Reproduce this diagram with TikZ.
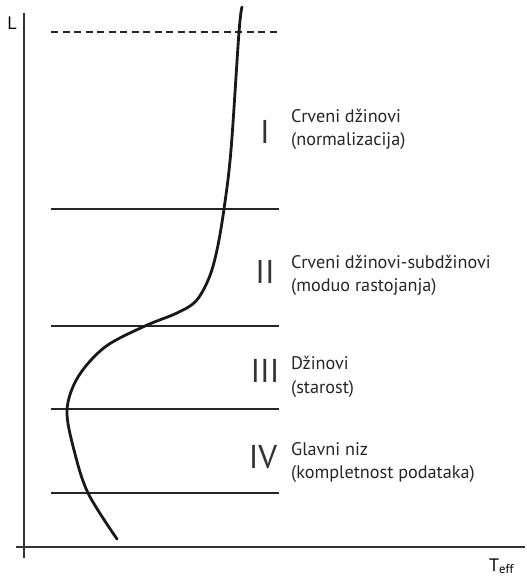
\documentclass[tikz,border=0pt]{standalone}
\usepackage{fontspec}
\setmainfont{PT Sans}
\begin{document}
\begin{tikzpicture}[x=1pt,y=-1pt,
  axis/.style={line width=1.4pt,draw=black!80},
  rule/.style={line width=1.2pt,draw=black!85},
  curve/.style={line width=2.8pt,draw=black!90,line cap=round},
  lbl/.style={inner sep=0pt,anchor=base west,font=\fontsize{18.2}{20}\selectfont,text=black!85},
  num/.style={inner sep=0pt,anchor=base,font=\fontsize{33}{36}\selectfont,text=black!80}]
\useasboundingbox (0,0) rectangle (527,581);
% axes
\coordinate (ytop) at (24,13);
\coordinate (ybot) at (24,558);
\coordinate (xl) at (16,547);
\coordinate (xr) at (525,547);
\draw[axis] (ytop) -- (ybot);
\draw[axis] (xl) -- (xr);
\node[inner sep=0pt,anchor=base,font=\fontsize{18}{20}\selectfont] (L) at (12,29) {L};
\node[inner sep=0pt,anchor=base west,font=\fontsize{18}{20}\selectfont] (T) at (489,571) {T\textsubscript{eff}};
% horizontal rules
\coordinate (d1) at (51,32);  \coordinate (d2) at (279,32);
\coordinate (h1a) at (51,209); \coordinate (h1b) at (279,209);
\coordinate (h2a) at (51,326); \coordinate (h2b) at (279,326);
\coordinate (h3a) at (51,409); \coordinate (h3b) at (279,409);
\coordinate (h4a) at (51,493); \coordinate (h4b) at (279,493);
\draw[rule,dash pattern=on 7pt off 4.5pt] (d1) -- (d2);
\draw[rule] (h1a) -- (h1b);
\draw[rule] (h2a) -- (h2b);
\draw[rule] (h3a) -- (h3b);
\draw[rule] (h4a) -- (h4b);
% curve
\draw[curve] plot[smooth,tension=0.55] coordinates {
 (242,7) (239,32) (231,150) (224,209) (217,250) (209,278) (196,301) (177,313)
 (145,326) (105,347) (78,377) (67,410) (74,450) (88,493) (117,539)};
% numerals
\node[num] (n1) at (265,143) {I};
\node[num] (n2) at (265,283) {II};
\node[num] (n3) at (265,382) {III};
\node[num] (n4) at (263,468) {IV};
% labels
\node[lbl] (a1) at (291,122) {Crveni džinovi};
\node[lbl] (b1) at (291,145) {(normalizacija)};
\node[lbl] (a2) at (291,268) {Crveni džinovi-subdžinovi};
\node[lbl] (b2) at (291,291) {(moduo rastojanja)};
\node[lbl] (a3) at (291,369) {Džinovi};
\node[lbl] (b3) at (291,393) {(starost)};
\node[lbl] (a4) at (291,455) {Glavni niz};
\node[lbl] (b4) at (291,478) {(kompletnost podataka)};
\end{tikzpicture}
\end{document}
